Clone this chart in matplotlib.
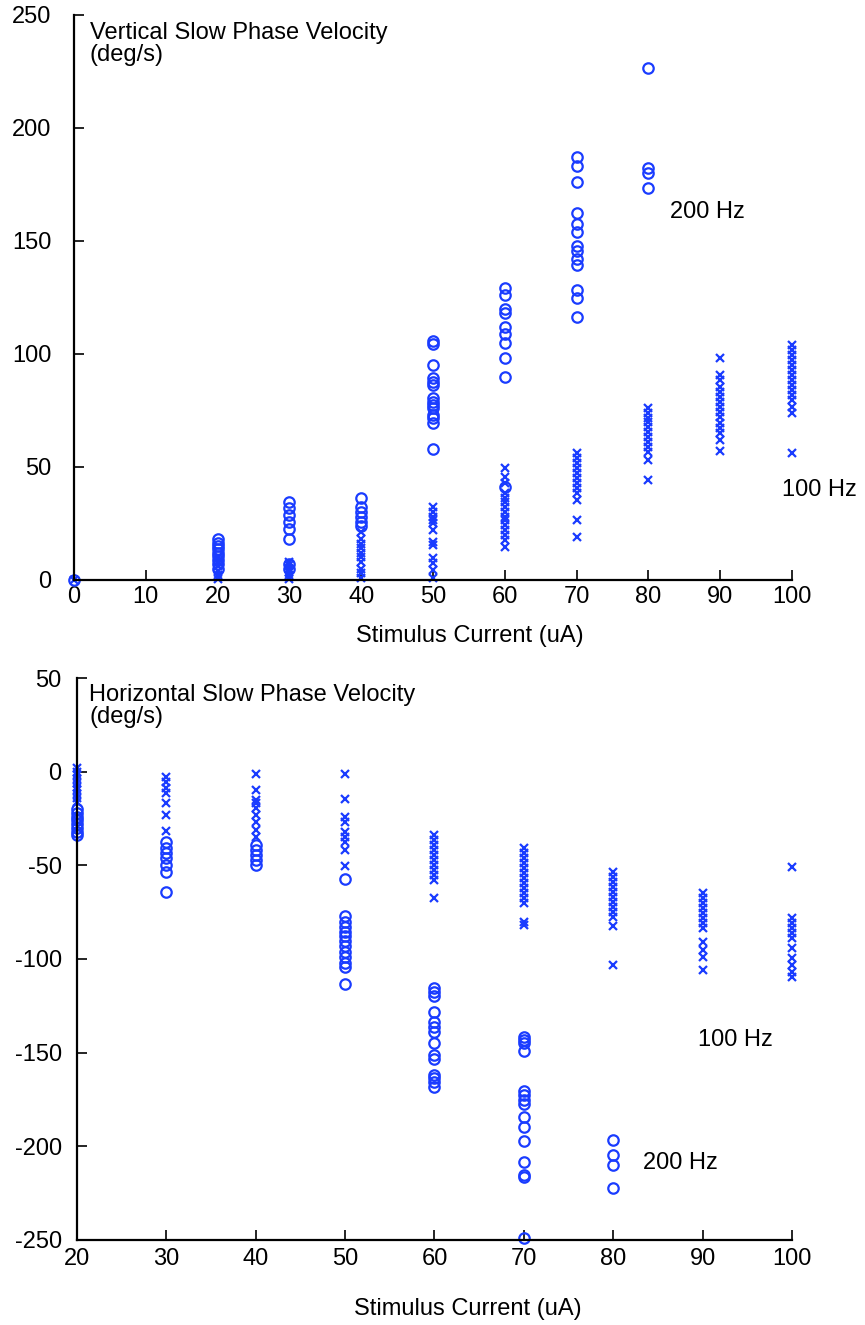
import matplotlib.pyplot as plt
import numpy as np

plt.rcParams['font.family'] = ['Liberation Sans', 'DejaVu Sans']
plt.rcParams['axes.unicode_minus'] = False

# vertical slow phase velocity (deg/s), keyed by stimulus current (uA)
vert_200 = {
    0: [0],
    20: [18, 16.5, 15, 13.5, 12, 10.5, 9, 7, 5],
    30: [34.6, 31.7, 28.8, 25.8, 22.4, 18.0, 7, 5],
    40: [36.3, 32.4, 30.2, 28, 25.8, 23.9],
    50: [105.9, 104.4, 95.1, 89.2, 87.7, 86.3, 80.4, 78.9, 77.4, 76, 73, 71.5, 69.3, 57.8],
    60: [129, 126, 120, 118, 112, 109, 105, 98, 90, 41.3],
    70: [187.2, 183.2, 176.1, 162.4, 157.5, 154, 147.8, 145.6, 142, 139.4, 128.3, 124.8, 116.4],
    80: [226.7, 182.2, 180.2, 173.6],
}
vert_100 = {
    0: [0],
    20: [10, 8, 6, 4, 2, 0.5],
    30: [8, 6.5, 5, 3.5, 2, 0.5],
    40: [21, 18, 16, 14, 12, 10, 8, 5, 3, 1],
    50: [32.4, 30.2, 28, 26.5, 25.1, 22.1, 17, 15.5, 9.6, 7.4, 4.4, 0.8],
    60: [49.4, 45.7, 42.8, 38.4, 36.2, 34.7, 32.4, 30.2, 28, 26.5, 24.3, 22.1, 19.9, 17.7, 14.7],
    70: [56, 53.8, 51.6, 49.4, 47.2, 45, 42.8, 40.6, 38.4, 35.4, 26.5, 19.2],
    80: [76, 73.8, 71.5, 70, 67.8, 65.6, 63.4, 61.2, 59, 56.8, 53.1, 44.2],
    90: [98.1, 90.7, 88.5, 85.5, 83.3, 81.1, 78.9, 76.7, 74.5, 72.3, 69.3, 67.1, 64.9, 61.9, 57.2],
    100: [104, 101.8, 99.6, 97.3, 95.1, 92.9, 90.7, 88.5, 86.3, 84.1, 81.9, 79.6, 76.4, 74, 56.3],
}

# horizontal slow phase velocity (deg/s)
horiz_200 = {
    20: [-20, -22, -24, -26, -28, -30, -32, -34],
    30: [-37.4, -40.9, -43.6, -46.3, -49.8, -53.4, -64.1],
    40: [-39.2, -41.8, -44.5, -47.2, -49.8],
    50: [-57.3, -77.1, -80.1, -82.8, -85.5, -87.7, -90.3, -93.1, -96.1, -98.8, -102.3, -104.1, -113.4],
    60: [-115.7, -117.5, -119.8, -128.2, -133.5, -136.2, -138.8, -145, -151.3, -153.6,
         -162, -163.7, -165.5, -168.5],
    70: [-141.5, -143.3, -145, -149, -170.3, -172.6, -175.3, -177.4, -184.2, -189.9,
         -197, -208.2, -215.4, -216.6, -249.2],
    80: [-196.7, -204.7, -210, -222.4],
}
horiz_100 = {
    20: [2, 0, -2, -4, -6, -8, -10, -12, -14, -16],
    30: [-2.7, -5.4, -8.9, -11.6, -16.9, -23.1, -31.5],
    40: [-1.4, -9.8, -15.1, -16.9, -19.6, -23.1, -26.7, -31.2, -34.7],
    50: [-1.3, -14.8, -24.1, -26.7, -32.1, -34.7, -37.4, -41.8, -50.4],
    60: [-33.8, -36.5, -39.2, -41.8, -44.5, -47.2, -49.8, -52.5, -55.2, -57.8, -67.6],
    70: [-40.9, -43.6, -46.3, -48.9, -51.6, -54.3, -56.9, -59.6, -62.3, -64.9, -67.6,
         -70.3, -80.1, -81.9],
    80: [-53.4, -56.1, -58.8, -61.4, -64.1, -66.8, -69.4, -72.1, -74.8, -77.4, -82.4, -103.2],
    90: [-64.9, -67.6, -70.3, -73, -75.6, -78.3, -81, -83.6, -90.8, -95.2, -98.8, -105.9],
    100: [-51.1, -78.3, -81, -83.6, -86.3, -89, -94.3, -99.7, -103.2, -106.8, -109.8],
}

blue = '#1a3cff'
fs = 17


def flat(d):
    xs = np.concatenate([[k] * len(v) for k, v in d.items()])
    ys = np.concatenate([v for v in d.values()])
    return xs, ys


def style(ax, xlim, ylim, xticks, yticks, xpad, ypad):
    ax.set_xlim(*xlim)
    ax.set_ylim(*ylim)
    ax.set_xticks(xticks)
    ax.set_yticks(yticks)
    ax.spines['top'].set_visible(False)
    ax.spines['right'].set_visible(False)
    for s in ['left', 'bottom']:
        ax.spines[s].set_linewidth(1.6)
    ax.tick_params(direction='in', length=7, width=1.2, labelsize=fs)
    ax.tick_params(axis='x', pad=xpad)
    ax.tick_params(axis='y', pad=ypad)


fig = plt.figure(figsize=(8.65, 13.25), dpi=100)

ax1 = fig.add_axes([0.0855, 0.5623, 0.830, 0.4264])
x, y = flat(vert_100)
ax1.plot(x, y, 'x', color=blue, ms=6, mew=1.6, clip_on=False)
x, y = flat(vert_200)
ax1.plot(x, y, 'o', mfc='none', mec=blue, ms=7.5, mew=1.6, clip_on=False)
style(ax1, (0, 100), (0, 250), np.arange(0, 101, 10), np.arange(0, 251, 50), 4, 16)
ax1.set_xlabel('Stimulus Current (uA)', fontsize=fs)
ax1.xaxis.set_label_coords(0.552, -0.079)
ax1.text(2.2, 247, 'Vertical Slow Phase Velocity\n(deg/s)', fontsize=fs,
         va='top', ha='left', linespacing=1.0)
ax1.text(83, 163, '200 Hz', fontsize=fs, va='center', ha='left')
ax1.text(98.6, 40, '100 Hz', fontsize=fs, va='center', ha='left', clip_on=False)

ax2 = fig.add_axes([0.089, 0.0642, 0.8266, 0.4241])
x, y = flat(horiz_100)
ax2.plot(x, y, 'x', color=blue, ms=6, mew=1.6, clip_on=False)
x, y = flat(horiz_200)
ax2.plot(x, y, 'o', mfc='none', mec=blue, ms=7.5, mew=1.6, clip_on=False)
style(ax2, (20, 100), (-250, 50), np.arange(20, 101, 10), np.arange(-250, 51, 50), 6, 11)
ax2.set_xlabel('Stimulus Current (uA)', fontsize=fs)
ax2.xaxis.set_label_coords(0.547, -0.104)
ax2.text(21.4, 47, 'Horizontal Slow Phase Velocity\n(deg/s)', fontsize=fs,
         va='top', ha='left', linespacing=1.0)
ax2.text(89.5, -143, '100 Hz', fontsize=fs, va='center', ha='left')
ax2.text(83.3, -209, '200 Hz', fontsize=fs, va='center', ha='left')

fig.savefig('out.png', dpi=100)
